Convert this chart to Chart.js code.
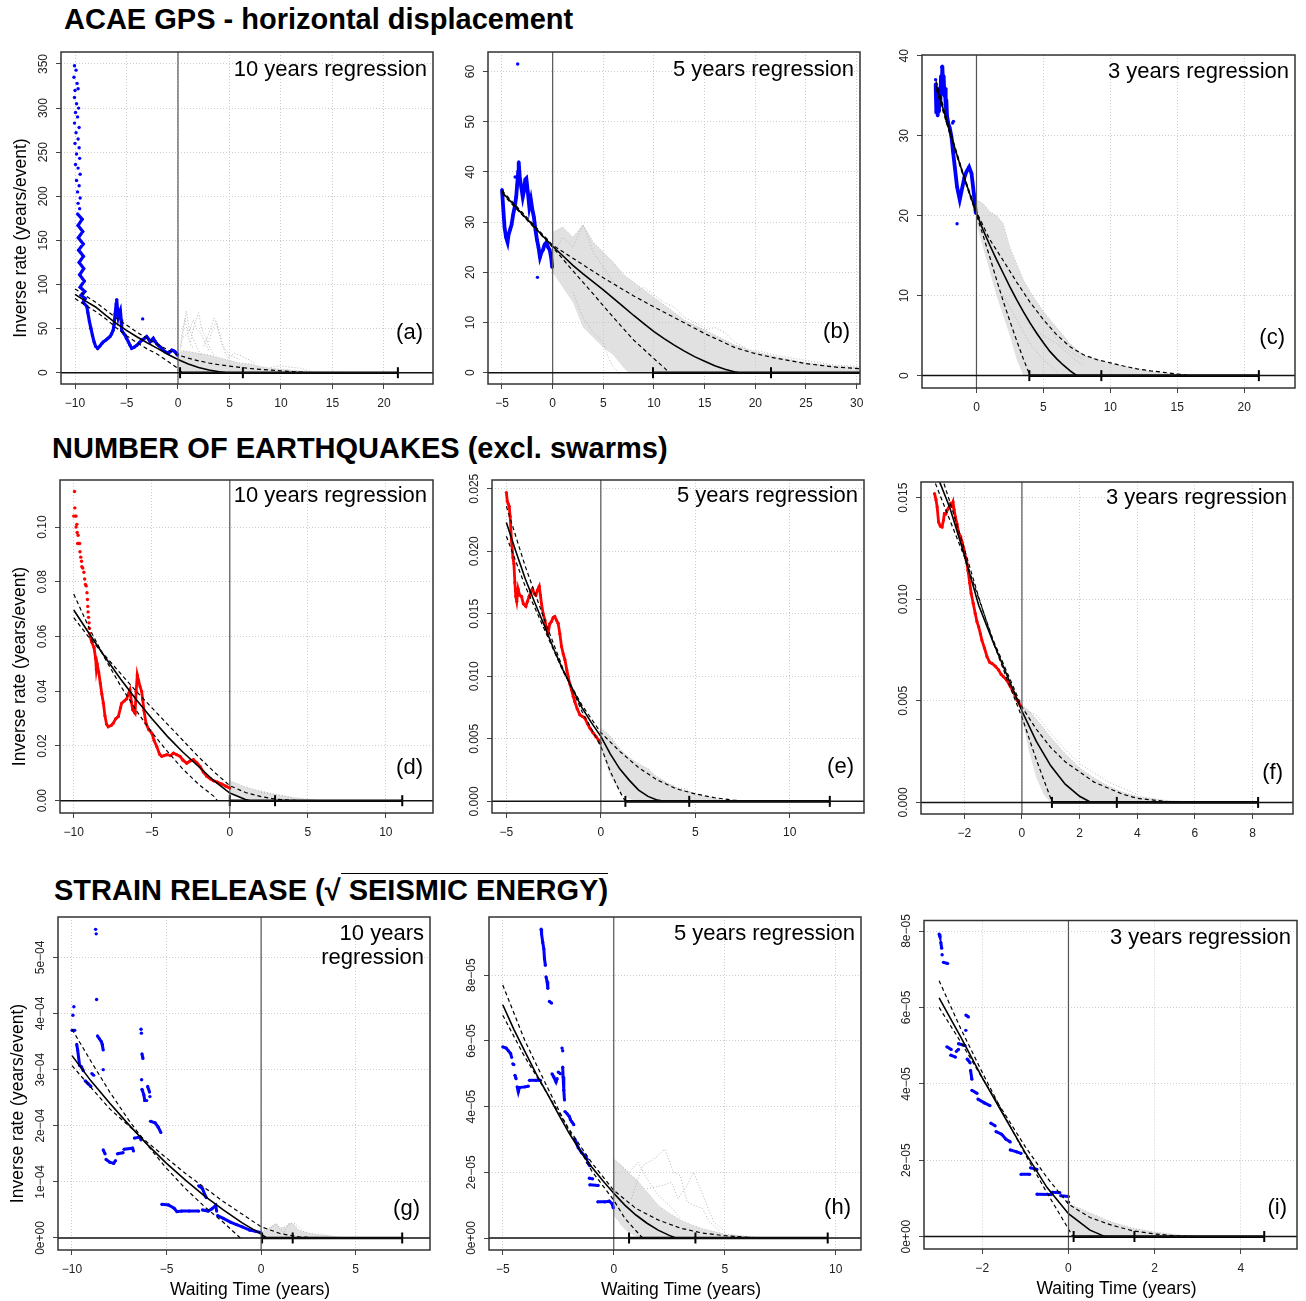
<!DOCTYPE html>
<html>
<head>
<meta charset="utf-8">
<script src="https://cdn.jsdelivr.net/npm/chart.js"></script>
<style>
  body { margin: 0; background: #fff; width: 1306px; height: 1301px; position: relative; overflow: hidden;
         font-family: "Liberation Sans", Arial, sans-serif; }
  .t { position: absolute; font-weight: bold; font-size: 29px; line-height: 1; white-space: nowrap; color: #000; }
  canvas { position: absolute; }
</style>
</head>
<body>
<div class="t" style="left:64px;top:5px">ACAE GPS - horizontal displacement</div>
<div class="t" style="left:52px;top:434px">NUMBER OF EARTHQUAKES (excl. swarms)</div>
<div class="t" style="left:54px;top:876px">STRAIN RELEASE (√<span style="border-top:1.5px solid #000"> SEISMIC ENERGY)</span></div>
<script>
// ---------- (a) GPS, 10 years regression ----------
const aXTicks = [-10, -5, 0, 5, 10, 15, 20];
const aYTicks = [0, 50, 100, 150, 200, 250, 300, 350];
const aYLabels = ['0', '50', '100', '150', '200', '250', '300', '350'];
const aDots = [[-10.05,348],[-9.9,343],[-10.1,335],[-9.8,328],[-10.0,320],[-9.7,322],[-10.05,312],[-9.85,305],[-9.65,300],
  [-9.95,295],[-9.75,290],[-10.05,283],[-9.6,278],[-9.9,272],[-9.7,265],[-10.0,260],[-9.6,255],[-9.85,248],[-9.55,243],
  [-9.95,236],[-9.7,232],[-9.5,225],[-9.85,218],[-9.6,212],[-9.75,205],[-9.5,198],[-9.7,192],[-9.55,186],[-3.43,61]];
const aObs = [[[-9.75,180],[-9.3,174],[-9.7,167],[-9.25,160],[-9.68,153],[-9.2,146],[-9.65,139],[-9.18,132],[-9.6,125],
  [-9.15,118],[-9.55,111],[-9.1,104],[-9.5,97],[-9.05,92],[-9.4,88],[-9.0,84],[-9.2,80],[-8.85,75],[-8.75,68],[-8.6,58],
  [-8.45,50],[-8.3,42],[-8.15,35],[-8.0,30],[-7.8,27.5],[-7.6,30],[-7.4,33],[-7.25,35],[-7.0,37],[-6.8,39],[-6.6,41],
  [-6.45,44],[-6.3,48],[-6.2,55],[-6.1,67],[-6.0,78],[-5.95,83],[-5.88,72],[-5.8,63],[-5.7,68],[-5.6,71],[-5.52,60],
  [-5.47,48],[-5.3,45],[-5.15,42.7],[-5.0,39],[-4.82,35],[-4.65,31],[-4.5,27.6],[-4.25,29],[-4.0,31],[-3.75,34],[-3.5,37],
  [-3.25,39],[-3.04,41],[-2.85,38],[-2.7,35],[-2.55,37],[-2.4,39],[-2.25,36],[-2.07,33],[-1.9,31],[-1.75,29.5],[-1.5,26.5],
  [-1.26,23.8],[-1.1,23],[-0.94,22],[-0.75,24],[-0.6,25.7],[-0.45,25],[-0.3,23.8],[-0.15,22],[-0.06,20]]];
const aFit = [[-10,88.8],[-9,81.5],[-8,74.5],[-7,65],[-6,56],[-5,48],[-4,40.8],[-3,34],[-2,27.6],[-1,21],[0,15],[1,10],[2,6],[3,3],[4,1],[4.7,0]];
const aFitHi = [[-10,95],[-9,87.5],[-8,80],[-7,71],[-6,62],[-5,54],[-4,46],[-3,39],[-2,32],[-1,26],[0,20],[1,16.5],[2,13.5],
  [3,11],[4,9],[5,7.5],[6,6],[7,4.8],[8,3.8],[9,2.9],[10,2.1],[11,1.3],[12,0.6],[12.7,0]];
const aFitLo = [[-10,84],[-9,76.5],[-8,69.5],[-7,61],[-6,51],[-5,42],[-4,34],[-3,27],[-2,21],[-1,13],[0,5],[0.4,0]];
const aSimTop = [[0,22],[0.5,25],[1,24],[2,22],[3,20],[4,17],[5,14],[6,11],[7,10],[8,7],[9,5],[10,4],[11,3],[12,2],[13,1],[15,0.5],[17,0]];
const aSimBot = [[0,2],[1,0.5],[2,0],[17,0]];
const aRuns = [[[0.3,30],[0.6,55],[0.8,70],[1.1,50],[1.4,40],[1.8,30],[2.2,20]],
  [[1.2,35],[1.6,55],[2.0,68],[2.3,50],[2.7,40],[3.0,30],[3.5,20]],
  [[2.5,30],[3.0,45],[3.5,62],[3.8,55],[4.2,35],[4.6,22],[5,15]],
  [[0.5,40],[1,45],[1.5,60],[1.8,50],[2.2,45],[2.6,35],[3,25]],
  [[3,35],[3.4,50],[3.7,58],[4,45],[4.4,30],[5,20],[6,15]],
  [[0.2,25],[0.4,45],[0.7,62],[1,40],[1.3,30],[1.6,28]],
  [[5,18],[5.5,22],[6,20],[6.5,17],[7,14],[7.5,10]],
  [[9,6],[10,8],[11,6],[12,5],[12.5,3],[13,1]]];
const aMarks = [0.2, 6.3, 21.35];

// ---------- (b) GPS, 5 years regression ----------
const bXTicks = [-5, 0, 5, 10, 15, 20, 25, 30];
const bYTicks = [0, 10, 20, 30, 40, 50, 60];
const bYLabels = ['0', '10', '20', '30', '40', '50', '60'];
const bDots = [[-3.45,61.5],[-1.5,19],[-3.7,39]];
const bObs = [[[-5,36.5],[-4.95,35],[-4.85,32],[-4.75,29],[-4.6,27],[-4.45,26],[-4.35,27.5],[-4.2,28.5],[-4.05,29.5],
  [-3.9,31.5],[-3.75,33],[-3.6,35],[-3.5,37.5],[-3.4,40],[-3.35,42],[-3.25,39],[-3.1,37],[-2.95,35],[-2.85,36],[-2.7,38.5],
  [-2.6,38.7],[-2.45,36],[-2.3,33],[-2.15,34.5],[-2.0,32.5],[-1.85,31],[-1.7,28.5],[-1.55,26.5],[-1.4,25],[-1.25,23],
  [-1.1,24],[-0.95,24.5],[-0.8,25.5],[-0.6,26],[-0.45,25],[-0.3,24.5],[-0.15,23],[-0.05,21]]];
const bFit = [[-5,36],[-4,33.8],[-3,31.6],[-2,29.5],[-1,27.3],[0,25.2],[1,23.3],[2,21.4],[3,19.7],[4,18.1],[5,16.5],[6,14.8],
  [7,13.1],[8,11.4],[9,9.8],[10,8.2],[11,6.8],[12,5.5],[13,4.3],[14,3.2],[15,2.3],[16,1.4],[17,0.7],[18,0.15],[18.4,0]];
const bFitHi = [[-5,36.3],[0,25.4],[2,22.8],[5,18.9],[8,15.3],[10,13.1],[12,11],[15,7.8],[18,5],[20,3.8],[22,2.9],[25,1.8],[28,1.1],[30.4,0.8]];
const bFitLo = [[-5,35.7],[0,25],[2,20.3],[4,15.7],[6,11],[8,6.5],[10,2.8],[11,1],[11.5,0]];
const bSimTop = [[0,28],[1,29],[2,27],[3,29.5],[4,26],[5,24],[6,22],[7,19.5],[8,18],[9,16.5],[10,15],[11,13.5],[12,12],
  [13,10.5],[14,9.5],[15,8.5],[16,7.5],[17,6.5],[18,5.5],[20,4.2],[22,3.2],[25,2],[28,1.3],[30.4,1]];
const bSimBot = [[0,20],[1,17],[2,14],[3,9],[4,7],[5,5],[6,3.5],[7,1],[7.5,0],[30.4,0]];
const bRuns = [[[0.2,24],[1,27],[2,25],[3,29.5],[3.5,27],[4,24],[5,21],[6,18]],
  [[8,16],[9,17],[10,15.5],[11,14],[12,13],[13,11],[14,10],[15,9]],
  [[14,9],[15,8.5],[16,9],[17,8],[18,6],[19,5]],
  [[2,16],[3,11],[4,8],[5,6],[5.5,3],[6,1],[6.5,0]],
  [[20,4.5],[22,3.5],[24,2.8],[26,2.1],[28,1.5],[30.4,1.2]]];
const bMarks = [9.9, 21.55, 41];

// ---------- (c) GPS, 3 years regression ----------
const cXTicks = [0, 5, 10, 15, 20];
const cYTicks = [0, 10, 20, 30, 40];
const cYLabels = ['0', '10', '20', '30', '40'];
const cDots = [[-1.45,19],[-1.78,31.6],[-1.72,31.8],[-3.05,37],[-2.6,38.6],[-2.2,31.8]];
const cObs = [[[-3.05,36.5],[-3.0,33],[-2.95,35.5],[-2.9,32.5],[-2.85,35],[-2.8,33],[-2.75,36],[-2.7,34],[-2.65,37.5],
  [-2.6,35.5],[-2.55,38.7],[-2.5,36.5],[-2.45,37.5],[-2.4,35],[-2.35,36],[-2.3,33.5],[-2.25,34.5],[-2.2,32.5],[-2.1,31.5],
  [-2.0,31],[-1.87,29.9],[-1.75,28],[-1.62,26.1],[-1.45,23.6],[-1.25,22],[-1.05,23.6],[-0.9,24.8],[-0.75,25.5],
  [-0.55,26.1],[-0.37,25.3],[-0.2,22.8],[-0.05,20.3]]];
const cFit = [[-3,36.3],[-2.5,33.4],[-2,30.6],[-1.5,27.8],[-1,25.2],[-0.5,22.7],[0,20.3],[0.5,18.2],[1,16.3],[1.5,14.5],
  [2,12.8],[2.5,11.1],[3,9.5],[3.5,8],[4,6.6],[4.5,5.3],[5,4.1],[5.5,3],[6,2.1],[6.5,1.3],[7,0.6],[7.5,0]];
const cFitHi = [[-3,36.8],[-2,30.8],[-1,25.3],[0,20.5],[1,17],[2,14.4],[3,11.7],[4,9.2],[5,7],[6,5.1],[7,3.6],[8,2.6],
  [9,2],[10,1.6],[11,1.2],[12,0.85],[13,0.6],[14,0.4],[15,0.2],[16,0]];
const cFitLo = [[-3,35.8],[-2,30.3],[-1,25],[0,20.1],[0.5,17.5],[1,14.8],[1.5,12],[2,9.3],[2.5,6.8],[3,4.4],[3.5,2.1],[4,0]];
const cSimTop = [[0,22],[0.5,21.5],[1,20.5],[1.5,20],[2,19],[2.5,16],[3,14],[3.5,12],[4,10.5],[5,8],[5.5,7],[6,6],[7,4],
  [8,2.5],[9,2],[10,1.5],[12,0.8],[14,0.3],[16,0]];
const cSimBot = [[0,19],[0.5,16],[1,13],[1.5,10],[2,7.5],[2.5,5],[3,2],[3.5,0],[16,0]];
const cRuns = [[[4,9],[5,7],[5.5,6],[6,4.5],[7,3],[8,2]],
  [[2,10],[3,7],[4,4],[5,2],[6,0.5]],
  [[4,6],[5,5],[6,4],[7,2.5],[8,1.2]]];
const cMarks = [3.95, 9.33, 21.1];

// ---------- (d) earthquakes, 10 years regression ----------
const dXTicks = [-10, -5, 0, 5, 10];
const dYTicks = [0, 0.02, 0.04, 0.06, 0.08, 0.10];
const dYLabels = ['0.00', '0.02', '0.04', '0.06', '0.08', '0.10'];
const dDots = [[-10.0,0.104],[-9.95,0.113],[-9.93,0.107],[-9.9,0.104],[-9.85,0.104],[-9.85,0.1],[-9.8,0.101],[-9.78,0.098],
  [-9.72,0.097],[-9.75,0.094],[-9.7,0.094],[-9.62,0.094],[-9.6,0.091],[-9.55,0.089],[-9.5,0.0875],[-9.48,0.0855],
  [-9.42,0.085],[-9.35,0.0835],[-9.3,0.081],[-9.25,0.079],[-9.2,0.0785],[-9.15,0.076],[-9.12,0.0735],[-9.1,0.071],
  [-9.08,0.069],[-9.05,0.067],[-9.02,0.065],[-9.0,0.063],[-8.97,0.061]];
const dObs = [[[-8.95,0.06],[-8.85,0.058],[-8.7,0.056],[-8.6,0.052],[-8.55,0.048],[-8.5,0.05],[-8.4,0.047],[-8.3,0.043],
  [-8.2,0.039],[-8.1,0.0356],[-8.0,0.031],[-7.9,0.028],[-7.79,0.027],[-7.6,0.0275],[-7.47,0.0283],[-7.3,0.03],[-7.14,0.0308],
  [-7.0,0.034],[-6.93,0.0356],[-6.75,0.0365],[-6.61,0.0372],[-6.5,0.039],[-6.4,0.0405],[-6.3,0.036],[-6.22,0.0332],
  [-6.07,0.032],[-6.0,0.04],[-5.93,0.046],[-5.85,0.044],[-5.75,0.0417],[-5.65,0.04],[-5.58,0.0369],[-5.5,0.033],
  [-5.37,0.0283],[-5.2,0.026],[-5.0,0.0247],[-4.85,0.022],[-4.68,0.0198],[-4.5,0.017],[-4.36,0.0162],[-4.2,0.0165],
  [-4.04,0.0168],[-3.8,0.0165],[-3.61,0.0174],[-3.4,0.0168],[-3.19,0.0162],[-3.0,0.0148],[-2.76,0.0137],[-2.55,0.0145],
  [-2.33,0.015],[-2.1,0.0138],[-1.9,0.0125],[-1.7,0.0105],[-1.48,0.0089],[-1.25,0.008],[-1.05,0.0073],[-0.8,0.0068],
  [-0.51,0.0061],[-0.25,0.0053],[0,0.0046]]];
const dFit = [[-10,0.0697],[-9,0.061],[-8,0.0525],[-7,0.0445],[-6,0.037],[-5,0.03],[-4,0.0235],[-3,0.0177],[-2,0.0125],
  [-1,0.0072],[0,0.0028],[1,0.0004],[1.3,0]];
const dFitHi = [[-10,0.0669],[-9,0.0595],[-8,0.053],[-7,0.0465],[-6,0.04],[-5,0.034],[-4,0.028],[-3,0.022],[-2,0.016],
  [-1,0.0105],[0,0.0055],[1,0.003],[2,0.0015],[3,0.0005],[4,0.0001],[5.5,0]];
const dFitLo = [[-10,0.0755],[-9,0.063],[-8,0.052],[-7,0.042],[-6,0.033],[-5,0.025],[-4,0.018],[-3,0.0115],[-2,0.006],
  [-1,0.0015],[-0.8,0]];
const dSimTop = [[0,0.0072],[0.5,0.0062],[1,0.005],[1.5,0.0042],[2,0.0035],[3,0.0022],[4,0.0012],[5,0.0005],[6,0.0001],[6.5,0]];
const dSimBot = [[0,0.0035],[0.5,0.0015],[1,0.0003],[1.5,0],[6.5,0]];
const dRuns = [[[2,0.003],[2.5,0.0026],[3,0.0022],[3.5,0.0016],[4,0.001]]];
const dMarks = [0, 2.9, 11.05];

// ---------- (e) earthquakes, 5 years regression ----------
const eXTicks = [-5, 0, 5, 10];
const eYTicks = [0, 0.005, 0.010, 0.015, 0.020, 0.025];
const eYLabels = ['0.000', '0.005', '0.010', '0.015', '0.020', '0.025'];
const eObs = [[[-5.0,0.0247],[-4.95,0.024],[-4.9,0.0238],[-4.85,0.0236],[-4.8,0.0228],[-4.73,0.0209],[-4.65,0.0195],
  [-4.6,0.019],[-4.55,0.0175],[-4.5,0.0164],[-4.45,0.016],[-4.38,0.017],[-4.3,0.0165],[-4.2,0.0164],[-4.1,0.0158],
  [-3.97,0.0156],[-3.88,0.016],[-3.79,0.0164],[-3.7,0.0168],[-3.62,0.017],[-3.52,0.0166],[-3.44,0.0165],[-3.35,0.0169],
  [-3.26,0.0172],[-3.2,0.0165],[-3.14,0.0158],[-3.05,0.015],[-2.96,0.0145],[-2.88,0.0138],[-2.79,0.01345],[-2.7,0.0142],
  [-2.61,0.01438],[-2.52,0.0147],[-2.44,0.01478],[-2.35,0.0145],[-2.26,0.01424],[-2.17,0.0134],[-2.08,0.01238],
  [-1.99,0.0118],[-1.9,0.01132],[-1.8,0.0105],[-1.73,0.00998],[-1.64,0.0094],[-1.55,0.00892],[-1.46,0.0084],
  [-1.38,0.00799],[-1.25,0.0074],[-1.11,0.00692],[-0.98,0.0068],[-0.85,0.00666],[-0.7,0.0062],[-0.58,0.00586],
  [-0.42,0.0055],[-0.26,0.00519],[-0.12,0.0049],[-0.03,0.00466]]];
const eFit = [[-5,0.0223],[-4.5,0.02],[-4,0.0178],[-3.5,0.0159],[-3,0.0141],[-2.5,0.0122],[-2,0.0105],[-1.5,0.009],
  [-1,0.0075],[-0.5,0.0063],[0,0.0052],[0.5,0.0038],[1,0.0026],[1.5,0.0017],[2,0.0009],[2.5,0.0004],[3,0.0001],[3.35,0]];
const eFitHi = [[-5,0.0212],[-4,0.0172],[-3,0.0138],[-2,0.0104],[-1,0.0077],[0,0.0055],[1,0.004],[2,0.0027],[3,0.0017],
  [4,0.001],[5,0.0006],[6,0.0003],[7,0.0001],[8,0]];
const eFitLo = [[-5,0.0236],[-4,0.0188],[-3,0.0146],[-2,0.0106],[-1,0.0072],[0,0.0044],[0.5,0.0024],[1,0.0008],[1.3,0]];
const eSimTop = [[0,0.0058],[0.3,0.0055],[0.5,0.0052],[1,0.0042],[1.5,0.0035],[2,0.003],[2.5,0.0026],[3,0.0019],
  [3.5,0.0015],[4,0.0011],[5,0.0006],[6,0.0002],[7,0]];
const eSimBot = [[0,0.0042],[0.5,0.002],[1,0.0008],[1.5,0.0002],[2,0],[7,0]];
const eRuns = [[[3,0.002],[3.5,0.0014],[4,0.0011],[4.5,0.001],[5,0.0005]]];
const eMarks = [1.3, 4.68, 12.12];

// ---------- (f) earthquakes, 3 years regression ----------
const fXTicks = [-2, 0, 2, 4, 6, 8];
const fYTicks = [0, 0.005, 0.010, 0.015];
const fYLabels = ['0.000', '0.005', '0.010', '0.015'];
const fObs = [[[-3.03,0.0152],[-2.98,0.0149],[-2.94,0.01454],[-2.89,0.0138],[-2.83,0.0136],[-2.77,0.01356],[-2.72,0.0139],
  [-2.69,0.01421],[-2.64,0.0142],[-2.6,0.01437],[-2.54,0.0145],[-2.48,0.0147],[-2.43,0.0146],[-2.39,0.01478],[-2.35,0.0144],
  [-2.31,0.01405],[-2.25,0.0137],[-2.19,0.01323],[-2.13,0.0131],[-2.08,0.01282],[-2.02,0.0125],[-1.96,0.01208],
  [-1.91,0.0118],[-1.87,0.01143],[-1.81,0.0108],[-1.76,0.01028],[-1.69,0.0098],[-1.62,0.0093],[-1.56,0.0089],
  [-1.5,0.00864],[-1.44,0.0083],[-1.39,0.00799],[-1.3,0.0076],[-1.21,0.00717],[-1.12,0.0069],[-1.04,0.00684],
  [-0.92,0.0067],[-0.81,0.00652],[-0.72,0.0063],[-0.64,0.00619],[-0.52,0.006],[-0.4,0.0057],[-0.28,0.0054],
  [-0.17,0.00504],[-0.03,0.00472]]];
const fFit = [[-3,0.0163],[-2.5,0.0145],[-2,0.0122],[-1.5,0.0097],[-1,0.0079],[-0.5,0.0062],[0,0.0045],[0.5,0.003],
  [1,0.0018],[1.5,0.0009],[2,0.0003],[2.4,0]];
const fFitHi = [[-3,0.0157],[-2,0.0121],[-1,0.008],[0,0.0047],[0.5,0.0036],[1,0.0027],[1.5,0.002],[2,0.0015],[2.5,0.001],
  [3,0.0007],[3.5,0.0004],[4,0.0002],[5,0.00005],[5.5,0]];
const fFitLo = [[-3,0.017],[-2.5,0.0148],[-2,0.0125],[-1.5,0.0101],[-1,0.0079],[-0.5,0.006],[0,0.0042],[0.5,0.0021],[1.05,0]];
const fSimTop = [[0,0.0048],[0.25,0.0045],[0.5,0.0041],[1,0.0032],[1.5,0.0024],[2,0.0017],[2.5,0.0012],[3,0.0008],
  [3.5,0.0005],[4,0.0003],[5,0.0001],[6,0]];
const fSimBot = [[0,0.0042],[0.25,0.0025],[0.5,0.0012],[0.75,0.0004],[1,0],[6,0]];
const fRuns = [[[0,0.0046],[0.5,0.0043],[1,0.0034],[1.5,0.0026],[2,0.0019],[3,0.001],[4,0.0004]]];
const fMarks = [1.04, 3.29, 8.19];

// ---------- (g) strain release, 10 years regression ----------
const gXTicks = [-10, -5, 0, 5];
const gYTicks = [0, 1e-4, 2e-4, 3e-4, 4e-4, 5e-4];
const gYLabels = ['0e+00', '1e\u221204', '2e\u221204', '3e\u221204', '4e\u221204', '5e\u221204'];
const gDots = [[-9.95,3.97e-4],[-9.9,4.12e-4],[-8.75,5.5e-4],[-8.72,5.42e-4],[-8.7,4.25e-4],[-8.35,3.0e-4],
  [-6.35,3.72e-4],[-6.33,3.65e-4],[-6.32,2.82e-4],[-5.88,2.52e-4]];
const gObs = [[[-10,3.7e-4],[-9.85,3.7e-4]],
  [[-9.75,3.45e-4],[-9.7,3.35e-4],[-9.6,3.08e-4],[-9.5,3.05e-4],[-9.4,2.98e-4]],
  [[-9.3,2.8e-4],[-9.15,2.75e-4],[-9.0,2.7e-4]],
  [[-8.95,2.93e-4],[-8.85,2.9e-4]],
  [[-8.65,3.6e-4],[-8.55,3.55e-4],[-8.45,3.5e-4],[-8.4,3.45e-4],[-8.35,3.35e-4]],
  [[-8.35,1.57e-4],[-8.25,1.5e-4]],
  [[-8.2,1.4e-4],[-8.0,1.35e-4],[-7.8,1.33e-4],[-7.7,1.38e-4]],
  [[-7.6,1.5e-4],[-7.3,1.52e-4]],
  [[-7.25,1.58e-4],[-6.8,1.6e-4],[-6.75,1.55e-4]],
  [[-6.7,1.78e-4],[-6.4,1.8e-4],[-6.35,1.75e-4]],
  [[-6.3,3.28e-4],[-6.25,3.2e-4]],
  [[-6.3,2.65e-4],[-6.2,2.55e-4],[-6.15,2.45e-4],[-6.05,2.45e-4]],
  [[-6.0,2.7e-4],[-5.9,2.6e-4]],
  [[-5.85,2.08e-4],[-5.6,2.05e-4],[-5.45,1.98e-4],[-5.3,1.88e-4]],
  [[-5.25,0.6e-4],[-4.9,0.59e-4],[-4.6,0.53e-4],[-4.45,0.47e-4],[-4.2,0.48e-4],[-3.8,0.48e-4],[-3.3,0.48e-4]],
  [[-3.3,0.93e-4],[-3.1,0.88e-4],[-2.95,0.75e-4],[-2.9,0.72e-4]],
  [[-3.1,0.5e-4],[-2.8,0.48e-4],[-2.6,0.52e-4],[-2.4,0.58e-4],[-2.35,0.48e-4]],
  [[-2.3,0.4e-4],[-2.0,0.35e-4],[-1.6,0.28e-4],[-1.3,0.24e-4],[-1.0,0.2e-4],[-0.6,0.14e-4],[-0.3,0.12e-4],[-0.05,0.1e-4]]];
const gFit = [[-10,3.25e-4],[-9,2.8e-4],[-8,2.4e-4],[-7,2.02e-4],[-6,1.66e-4],[-5,1.33e-4],[-4,1.03e-4],[-3,0.75e-4],
  [-2,0.5e-4],[-1,0.27e-4],[0,0.07e-4],[0.3,0]];
const gFitHi = [[-10,3.07e-4],[-8,2.3e-4],[-6,1.7e-4],[-4,1.15e-4],[-2,0.65e-4],[0,0.2e-4],[1,0.08e-4],[2,0.02e-4],[3,0]];
const gFitLo = [[-10,3.72e-4],[-9,3.15e-4],[-8,2.6e-4],[-7,2.1e-4],[-6,1.65e-4],[-5,1.24e-4],[-4,0.88e-4],[-3,0.56e-4],
  [-2,0.28e-4],[-1.1,0]];
const gSimTop = [[0,0.12e-4],[0.3,0.15e-4],[0.5,0.2e-4],[0.8,0.26e-4],[1.0,0.18e-4],[1.3,0.2e-4],[1.5,0.27e-4],
  [1.7,0.25e-4],[2.0,0.14e-4],[2.5,0.09e-4],[3,0.06e-4],[3.5,0.05e-4],[4,0.02e-4],[4.5,0]];
const gSimBot = [[0,0.05e-4],[0.5,0.01e-4],[1,0],[4.5,0]];
const gRuns = [[[0.3,0.1e-4],[0.6,0.2e-4],[0.8,0.25e-4],[1.0,0.15e-4],[1.3,0.1e-4]],
  [[1.2,0.1e-4],[1.5,0.25e-4],[1.7,0.27e-4],[2.0,0.2e-4],[2.3,0.1e-4]]];
const gMarks = [0.05, 1.67, 7.46];

// ---------- (h) strain release, 5 years regression ----------
const hXTicks = [-5, 0, 5, 10];
const hYTicks = [0, 2e-5, 4e-5, 6e-5, 8e-5];
const hYLabels = ['0e+00', '2e\u221205', '4e\u221205', '6e\u221205', '8e\u221205'];
const hDots = [[-2.33,5.78e-5],[-2.3,5.7e-5]];
const hObs = [[[-5.0,5.82e-5],[-4.85,5.78e-5],[-4.75,5.7e-5],[-4.65,5.62e-5],[-4.6,5.5e-5]],
  [[-4.55,5.3e-5],[-4.5,5.28e-5]],
  [[-4.45,4.95e-5],[-4.4,4.85e-5]],
  [[-4.35,4.6e-5],[-4.3,4.45e-5],[-4.25,4.58e-5],[-4.0,4.6e-5],[-3.85,4.62e-5]],
  [[-3.8,4.8e-5],[-3.5,4.8e-5],[-3.3,4.8e-5]],
  [[-3.27,9.4e-5],[-3.25,9.25e-5],[-3.2,9.0e-5],[-3.15,8.8e-5],[-3.12,8.5e-5],[-3.08,8.3e-5]],
  [[-3.05,7.95e-5],[-3.0,7.8e-5],[-2.97,7.6e-5]],
  [[-2.9,7.2e-5],[-2.8,7.15e-5]],
  [[-2.78,5.0e-5],[-2.7,4.9e-5],[-2.6,4.75e-5],[-2.55,4.85e-5]],
  [[-2.5,5.05e-5],[-2.4,5.0e-5]],
  [[-2.3,5.2e-5],[-2.28,4.9e-5],[-2.25,4.5e-5],[-2.22,4.2e-5]],
  [[-2.2,3.85e-5],[-2.1,3.78e-5],[-2.0,3.7e-5],[-1.95,3.6e-5]],
  [[-1.9,3.55e-5],[-1.8,3.45e-5]],
  [[-1.75,3.0e-5],[-1.6,2.75e-5],[-1.45,2.6e-5],[-1.3,2.5e-5],[-1.2,2.4e-5]],
  [[-1.18,2.3e-5],[-1.08,2.2e-5]],
  [[-1.1,1.82e-5],[-0.95,1.8e-5]],
  [[-1.08,1.62e-5],[-0.7,1.6e-5]],
  [[-0.72,1.1e-5],[-0.4,1.1e-5],[-0.2,1.12e-5],[-0.08,1.05e-5],[-0.02,0.92e-5]]];
const hFit = [[-5,7.1e-5],[-4.5,6.35e-5],[-4,5.67e-5],[-3.5,5.0e-5],[-3,4.4e-5],[-2.5,3.78e-5],[-2,3.18e-5],[-1.5,2.65e-5],
  [-1,2.17e-5],[-0.5,1.75e-5],[0,1.36e-5],[0.5,1.0e-5],[1,0.7e-5],[1.5,0.45e-5],[2,0.24e-5],[2.5,0.08e-5],[2.8,0]];
const hFitHi = [[-5,6.78e-5],[-4,5.5e-5],[-3,4.4e-5],[-2,3.3e-5],[-1,2.3e-5],[0,1.45e-5],[1,0.9e-5],[2,0.55e-5],[3,0.3e-5],
  [4,0.15e-5],[5,0.07e-5],[6,0.02e-5],[7,0]];
const hFitLo = [[-5,7.7e-5],[-4,6.0e-5],[-3,4.6e-5],[-2,3.25e-5],[-1,2.05e-5],[0,1.15e-5],[0.5,0.6e-5],[1.3,0]];
const hSimTop = [[0,2.4e-5],[0.2,2.3e-5],[0.5,2.1e-5],[0.8,1.9e-5],[1,1.8e-5],[1.5,1.4e-5],[2,1.0e-5],[2.5,0.75e-5],
  [3,0.55e-5],[3.5,0.4e-5],[4,0.28e-5],[5,0.12e-5],[6,0.05e-5],[7,0]];
const hSimBot = [[0,0.7e-5],[0.3,0.4e-5],[0.6,0.2e-5],[1,0.05e-5],[1.3,0],[7,0]];
const hRuns = [[[0.8,1.2e-5],[1.3,2.2e-5],[1.8,2.4e-5],[2.3,2.7e-5],[2.7,2.0e-5],[3.0,1.9e-5],[3.3,1.1e-5],[3.6,1.0e-5],
  [4.0,0.9e-5],[4.3,0.5e-5],[4.8,0.2e-5]],
  [[1.5,1.5e-5],[2.2,1.6e-5],[2.6,1.7e-5],[2.9,1.2e-5],[3.3,1.6e-5],[3.6,2.0e-5],[3.9,1.5e-5],[4.2,1.0e-5],[4.5,0.5e-5],[5,0.2e-5]],
  [[0.3,2.2e-5],[0.7,2.0e-5],[1.1,2.3e-5],[1.5,1.8e-5],[2,1.3e-5],[2.5,1.0e-5],[3,0.6e-5]]];
const hMarks = [0.69, 3.68, 9.64];

// ---------- (i) strain release, 3 years regression ----------
const iXTicks = [-2, 0, 2, 4];
const iYTicks = [0, 2e-5, 4e-5, 6e-5, 8e-5];
const iYLabels = ['0e+00', '2e\u221205', '4e\u221205', '6e\u221205', '8e\u221205'];
const iDots = [[-2.93,7.38e-5],[-2.38,5.4e-5],[0,0.9e-5]];
const iObs = [[[-3.0,7.92e-5],[-2.98,7.85e-5]],
  [[-2.96,7.7e-5],[-2.94,7.55e-5]],
  [[-2.9,7.18e-5],[-2.8,7.15e-5]],
  [[-2.82,4.97e-5],[-2.72,4.9e-5]],
  [[-2.73,4.75e-5],[-2.62,4.7e-5]],
  [[-2.6,4.85e-5],[-2.55,4.9e-5]],
  [[-2.55,5.05e-5],[-2.4,5.0e-5]],
  [[-2.38,5.8e-5],[-2.32,5.75e-5]],
  [[-2.35,4.65e-5],[-2.28,4.55e-5]],
  [[-2.27,4.35e-5],[-2.24,4.12e-5]],
  [[-2.24,3.83e-5],[-2.12,3.75e-5]],
  [[-2.1,3.6e-5],[-1.95,3.5e-5],[-1.82,3.43e-5]],
  [[-1.8,2.97e-5],[-1.7,2.9e-5]],
  [[-1.68,2.75e-5],[-1.55,2.68e-5],[-1.45,2.55e-5],[-1.35,2.48e-5]],
  [[-1.35,2.27e-5],[-1.2,2.22e-5],[-1.1,2.18e-5]],
  [[-1.1,1.63e-5],[-0.9,1.63e-5]],
  [[-0.88,1.8e-5],[-0.73,1.76e-5]],
  [[-0.73,1.11e-5],[-0.4,1.1e-5]],
  [[-0.38,1.16e-5],[-0.2,1.15e-5]],
  [[-0.18,1.07e-5],[0,1.05e-5]]];
const iFit = [[-3,6.25e-5],[-2.5,5.23e-5],[-2,4.16e-5],[-1.5,3.17e-5],[-1,2.19e-5],[-0.5,1.29e-5],[0,0.6e-5],[0.5,0.17e-5],[0.85,0]];
const iFitHi = [[-3,6.0e-5],[-2.5,5.1e-5],[-2,4.15e-5],[-1.5,3.25e-5],[-1,2.35e-5],[-0.5,1.55e-5],[0,0.85e-5],[0.5,0.5e-5],
  [1,0.3e-5],[1.5,0.15e-5],[2,0.07e-5],[2.5,0.02e-5],[3,0]];
const iFitLo = [[-3,6.7e-5],[-2.5,5.45e-5],[-2,4.3e-5],[-1.5,3.2e-5],[-1,2.15e-5],[-0.5,1.15e-5],[0,0.2e-5],[0.1,0]];
const iSimTop = [[0,0.85e-5],[0.25,0.75e-5],[0.5,0.62e-5],[0.75,0.5e-5],[1,0.38e-5],[1.5,0.22e-5],[2,0.12e-5],[2.5,0.05e-5],[3,0]];
const iSimBot = [[0,0.2e-5],[0.15,0.05e-5],[0.3,0],[3,0]];
const iRuns = [];
const iMarks = [0.12, 1.53, 4.54];

// ---------- layout ----------
const BLUE = '#0000ff', RED = '#ff0000';
const FONT = '"Liberation Sans", Arial, sans-serif';
const ML = 56, MR = 10, MB = 62;

const panels = [
  {box:[61,52,433,384], xr:[-11.36,24.76], yr:[-12.8,363.6], col:BLUE, lw:3.2, xTicks:aXTicks, yTicks:aYTicks, yLabels:aYLabels,
   obs:aObs, dots:aDots, fit:aFit, hi:aFitHi, lo:aFitLo, simTop:aSimTop, simBot:aSimBot, runs:aRuns, marks:aMarks,
   tag:['10 years regression'], tagDy:24, letter:'(a)', letterDy:45, yTitle:true},
  {box:[488,52,860,384], xr:[-6.38,30.33], yr:[-2.25,63.9], col:BLUE, lw:3.8, xTicks:bXTicks, yTicks:bYTicks, yLabels:bYLabels,
   obs:bObs, dots:bDots, fit:bFit, hi:bFitHi, lo:bFitLo, simTop:bSimTop, simBot:bSimBot, runs:bRuns, marks:bMarks,
   tag:['5 years regression'], tagDy:24, letter:'(b)', letterDy:46},
  {box:[922,55,1295,388], xr:[-4.07,23.8], yr:[-1.55,40.1], col:BLUE, lw:3.8, xTicks:cXTicks, yTicks:cYTicks, yLabels:cYLabels,
   obs:cObs, dots:cDots, fit:cFit, hi:cFitHi, lo:cFitLo, simTop:cSimTop, simBot:cSimBot, runs:cRuns, marks:cMarks,
   tag:['3 years regression'], tagDy:23, letter:'(c)', letterDy:44},
  {box:[60,480,433,813], xr:[-10.88,13.02], yr:[-0.0045,0.1172], col:RED, lw:2.8, xTicks:dXTicks, yTicks:dYTicks, yLabels:dYLabels,
   obs:dObs, dots:dDots, fit:dFit, hi:dFitHi, lo:dFitLo, simTop:dSimTop, simBot:dSimBot, runs:dRuns, marks:dMarks,
   tag:['10 years regression'], tagDy:22, letter:'(d)', letterDy:39, yTitle:true},
  {box:[492,480,864,813], xr:[-5.76,13.93], yr:[-0.00093,0.0257], col:RED, lw:2.8, xTicks:eXTicks, yTicks:eYTicks, yLabels:eYLabels,
   obs:eObs, dots:[], fit:eFit, hi:eFitHi, lo:eFitLo, simTop:eSimTop, simBot:eSimBot, runs:eRuns, marks:eMarks,
   tag:['5 years regression'], tagDy:22, letter:'(e)', letterDy:40},
  {box:[921,482,1293,814], xr:[-3.5,9.4], yr:[-0.00057,0.01577], col:RED, lw:2.8, xTicks:fXTicks, yTicks:fYTicks, yLabels:fYLabels,
   obs:fObs, dots:[], fit:fFit, hi:fFitHi, lo:fFitLo, simTop:fSimTop, simBot:fSimBot, runs:fRuns, marks:fMarks,
   tag:['3 years regression'], tagDy:22, letter:'(f)', letterDy:35},
  {box:[58,917,430,1250], xr:[-10.74,8.93], yr:[-2.14e-5,5.72e-4], col:BLUE, lw:3, xTicks:gXTicks, yTicks:gYTicks, yLabels:gYLabels,
   obs:gObs, dots:gDots, fit:gFit, hi:gFitHi, lo:gFitLo, simTop:gSimTop, simBot:gSimBot, runs:gRuns, marks:gMarks,
   tag:['10 years', 'regression'], tagDy:23, letter:'(g)', letterDy:35, yTitle:true, xTitle:true},
  {box:[489,917,861,1250], xr:[-5.62,11.14], yr:[-3.65e-6,9.77e-5], col:BLUE, lw:3, xTicks:hXTicks, yTicks:hYTicks, yLabels:hYLabels,
   obs:hObs, dots:hDots, fit:hFit, hi:hFitHi, lo:hFitLo, simTop:hSimTop, simBot:hSimBot, runs:hRuns, marks:hMarks,
   tag:['5 years regression'], tagDy:23, letter:'(h)', letterDy:36, xTitle:true},
  {box:[924,915,1297,1249], xr:[-3.35,5.3], yr:[-3.24e-6,8.275e-5], col:BLUE, lw:3, xTicks:iXTicks, yTicks:iYTicks, yLabels:iYLabels,
   obs:iObs, dots:iDots, fit:iFit, hi:iFitHi, lo:iFitLo, simTop:iSimTop, simBot:iSimBot, runs:iRuns, marks:iMarks,
   tag:['3 years regression'], tagDy:23, letter:'(i)', letterDy:35, xTitle:true, mt:2}
];

const pts = a => a.map(([x, y]) => ({x, y}));
const plain = (a, color, w, dash) => ({data: pts(a), borderColor: color, borderWidth: w, borderDash: dash || [],
  pointRadius: 0, fill: false, tension: 0});

function buildDatasets(p) {
  const ds = [];
  ds.push(plain(p.fit, '#000', 1.6));
  ds.push(plain(p.hi, '#000', 1.2, [4, 3]));
  ds.push(plain(p.lo, '#000', 1.2, [4, 3]));
  ds.push({data: pts(p.marks.map(m => [m, 0])), showLine: false, pointStyle: 'line', pointRotation: 90,
           pointRadius: 5.5, pointBorderWidth: 2, pointBorderColor: '#000'});
  ds.push(plain([[p.marks[0], 0], [p.marks[p.marks.length - 1], 0]], '#000', 2.6));
  p.obs.forEach(seg => ds.push({data: pts(seg), showLine: seg.length > 1, borderColor: p.col, borderWidth: p.lw,
    pointRadius: 1.6, pointBackgroundColor: p.col, pointBorderWidth: 0, fill: false, tension: 0}));
  if (p.dots.length) ds.push({data: pts(p.dots), showLine: false, pointRadius: 1.7,
    pointBackgroundColor: p.col, pointBorderWidth: 0});
  p.runs.forEach(r => ds.push(plain(r, '#b5b5b5', 1, [1, 2])));
  ds.push(Object.assign(plain(p.simTop, '#bdbdbd', 1, [1, 2]), {fill: '+1', backgroundColor: 'rgba(200,200,200,0.55)'}));
  ds.push(plain(p.simBot, 'rgba(0,0,0,0)', 0));
  return ds;
}

const minus = v => (v < 0 ? '\u2212' + (-v) : String(v));

// R-style frame, reference lines and all the text of one panel
function deco(p) {
  return {
    id: 'deco',
    afterDatasetsDraw(chart) {
      const {ctx, chartArea: a, scales: {x, y}} = chart;
      const x0 = x.getPixelForValue(0), y0 = y.getPixelForValue(0);
      ctx.save();
      ctx.beginPath(); ctx.rect(a.left, a.top, a.right - a.left, a.bottom - a.top); ctx.clip();
      ctx.strokeStyle = '#555'; ctx.lineWidth = 1.2;
      ctx.beginPath(); ctx.moveTo(x0, a.top); ctx.lineTo(x0, a.bottom); ctx.stroke();
      ctx.strokeStyle = '#111'; ctx.lineWidth = 1.5;
      ctx.beginPath(); ctx.moveTo(a.left, y0); ctx.lineTo(a.right, y0); ctx.stroke();
      ctx.restore();
      ctx.save();
      ctx.strokeStyle = '#333'; ctx.lineWidth = 1.5;
      ctx.strokeRect(a.left, a.top, a.right - a.left, a.bottom - a.top);
      ctx.restore();
    },
    afterDraw(chart) {
      const {ctx, chartArea: a, scales: {x, y}} = chart;
      ctx.save();
      ctx.fillStyle = '#222';
      ctx.font = '12px ' + FONT;
      ctx.textAlign = 'center'; ctx.textBaseline = 'middle';
      p.xTicks.forEach(v => ctx.fillText(minus(v), x.getPixelForValue(v), a.bottom + 20));
      ctx.textBaseline = 'alphabetic';
      p.yTicks.forEach((v, i) => {
        ctx.save();
        ctx.translate(a.left - 14, y.getPixelForValue(v));
        ctx.rotate(-Math.PI / 2);
        ctx.fillText(p.yLabels[i], 0, 0);
        ctx.restore();
      });
      ctx.fillStyle = '#000';
      ctx.font = '17.5px ' + FONT;
      if (p.yTitle) {
        ctx.save();
        ctx.translate(a.left - 40, (a.top + a.bottom) / 2 + 20);
        ctx.rotate(-Math.PI / 2);
        ctx.textBaseline = 'middle';
        ctx.fillText('Inverse rate (years/event)', 0, 0);
        ctx.restore();
      }
      if (p.xTitle) {
        ctx.textBaseline = 'middle';
        ctx.fillText('Waiting Time (years)', (a.left + a.right) / 2 + 6, a.bottom + 40);
      }
      ctx.font = '22px ' + FONT;
      ctx.textAlign = 'right'; ctx.textBaseline = 'alphabetic';
      p.tag.forEach((t, i) => ctx.fillText(t, a.right - 6, a.top + p.tagDy + i * 24));
      ctx.fillText(p.letter, a.right - 10, a.bottom - p.letterDy);
      ctx.restore();
    }
  };
}

panels.forEach(p => {
  const [L, T, R, B] = p.box;
  const mt = p.mt === undefined ? 14 : p.mt;
  const cv = document.createElement('canvas');
  cv.width = (R - L) + ML + MR;
  cv.height = (B - T) + mt + MB;
  cv.style.left = (L - ML) + 'px';
  cv.style.top = (T - mt) + 'px';
  document.body.appendChild(cv);

  const gridOpts = {color: '#cdcdcd', lineWidth: 1, drawTicks: true, tickLength: 5, tickColor: '#444', tickWidth: 1};
  new Chart(cv, {
    type: 'line',
    data: {datasets: buildDatasets(p)},
    options: {
      responsive: false, animation: false, devicePixelRatio: 1, events: [],
      layout: {padding: {top: mt, right: MR, left: 0, bottom: 0}},
      plugins: {legend: {display: false}, tooltip: {enabled: false}},
      scales: {
        x: {type: 'linear', min: p.xr[0], max: p.xr[1],
            afterFit: s => { s.height = MB; },
            afterBuildTicks: s => { s.ticks = p.xTicks.map(v => ({value: v})); },
            ticks: {display: false}, grid: gridOpts, border: {display: false, dash: [1, 2]}},
        y: {type: 'linear', min: p.yr[0], max: p.yr[1],
            afterFit: s => { s.width = ML; },
            afterBuildTicks: s => { s.ticks = p.yTicks.map(v => ({value: v})); },
            ticks: {display: false}, grid: gridOpts, border: {display: false, dash: [1, 2]}}
      }
    },
    plugins: [deco(p)]
  });
});
</script>
</body>
</html>
